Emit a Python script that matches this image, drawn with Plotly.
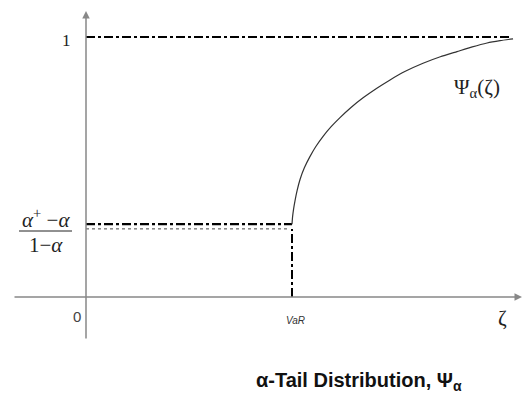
import plotly.graph_objects as go

# ---- data ----
var_x = 1.0                      # VaR position on the zeta axis
lower_level = 0.28               # (alpha+ - alpha)/(1 - alpha)
lower_level_thin = 0.262
top_level = 1.0
curve_x = [1.0, 1.003, 1.008, 1.015, 1.025, 1.039, 1.06, 1.087, 1.115, 1.150, 1.19, 1.233,
           1.285, 1.345, 1.41, 1.476, 1.55, 1.636, 1.72, 1.801, 1.875, 1.947, 2.01, 2.073]
curve_y = [0.28, 0.31, 0.34, 0.372, 0.41, 0.452, 0.497, 0.540, 0.578, 0.617, 0.655, 0.690,
           0.728, 0.766, 0.802, 0.835, 0.868, 0.899, 0.924, 0.944, 0.962, 0.977, 0.986, 0.993]
top_line_x = [0.0, 2.063]
x_tick_labels = ["0", "VaR", "ζ"]
y_tick_labels = ["1"]

# pixel mapping helpers for the plotting frame (origin at px 86, 297)
X0, Y0, XS, YS = 86, 297, 206, 260
xr = [(0 - X0) / XS, (524 - X0) / XS]
yr = [(Y0 - 398) / YS, (Y0 - 0) / YS]

fig = go.Figure()

# top level line y = 1
fig.add_trace(go.Scatter(x=top_line_x, y=[top_level, top_level], mode="lines",
                         line=dict(color="black", width=2.2, dash="dashdot"), hoverinfo="skip"))
# lower level lines
fig.add_trace(go.Scatter(x=[0, var_x], y=[lower_level, lower_level], mode="lines",
                         line=dict(color="black", width=2.2, dash="dashdot"), hoverinfo="skip"))
fig.add_trace(go.Scatter(x=[0, var_x - 0.01], y=[lower_level_thin, lower_level_thin], mode="lines",
                         line=dict(color="#444", width=1, dash="dot"), hoverinfo="skip"))
# vertical at VaR
fig.add_trace(go.Scatter(x=[var_x, var_x], y=[0, lower_level_thin], mode="lines",
                         line=dict(color="black", width=2, dash="dashdot"), hoverinfo="skip"))
# curve
fig.add_trace(go.Scatter(x=curve_x, y=curve_y, mode="lines", line_shape="spline",
                         line=dict(color="#333", width=1.2, smoothing=0.6), hoverinfo="skip"))

annos = []
# axes with arrows
annos.append(dict(x=(522 - X0) / XS, y=0, ax=(13 - X0) / XS, ay=0, xref="x", yref="y",
                  axref="x", ayref="y", showarrow=True, arrowhead=2, arrowsize=1,
                  arrowwidth=1.5, arrowcolor="#888", text=""))
annos.append(dict(x=0, y=(Y0 - 11) / YS, ax=0, ay=(Y0 - 340) / YS, xref="x", yref="y",
                  axref="x", ayref="y", showarrow=True, arrowhead=2, arrowsize=1,
                  arrowwidth=1.5, arrowcolor="#888", text=""))
# tick labels
annos.append(dict(x=(77 - X0) / XS, y=(Y0 - 316) / YS, text=x_tick_labels[0], showarrow=False,
                  xanchor="center", yanchor="middle",
                  font=dict(family="Arial", size=15, color="#444")))
annos.append(dict(x=(295 - X0) / XS, y=(Y0 - 320) / YS, text="<i>" + x_tick_labels[1] + "</i>",
                  showarrow=False, xanchor="center", yanchor="middle",
                  font=dict(family="Arial", size=10, color="#333")))
annos.append(dict(x=(502 - X0) / XS, y=(Y0 - 318) / YS, text=x_tick_labels[2], showarrow=False,
                  xanchor="center", yanchor="middle",
                  font=dict(family="Liberation Serif", size=21, color="#222")))
annos.append(dict(x=(66 - X0) / XS, y=(Y0 - 40) / YS, text=y_tick_labels[0], showarrow=False,
                  xanchor="center", yanchor="middle",
                  font=dict(family="Liberation Serif", size=17, color="#222")))
# fraction label
annos.append(dict(x=(46 - X0) / XS, y=(Y0 - 218) / YS, text="<i>α</i><sup>+</sup> −<i>α</i>",
                  showarrow=False, xanchor="center", yanchor="middle",
                  font=dict(family="Liberation Serif", size=21, color="#222")))
annos.append(dict(x=(46 - X0) / XS, y=(Y0 - 245) / YS, text="1−<i>α</i>",
                  showarrow=False, xanchor="center", yanchor="middle",
                  font=dict(family="Liberation Serif", size=21, color="#222")))
# curve label
annos.append(dict(x=(477 - X0) / XS, y=(Y0 - 88) / YS, text="Ψ<sub>α</sub>(ζ)",
                  showarrow=False, xanchor="center", yanchor="middle",
                  font=dict(family="Liberation Serif", size=21, color="#222")))
# title
annos.append(dict(x=359 / 524, y=1 - 381 / 398, xref="paper", yref="paper",
                  xanchor="center", yanchor="middle",
                  text="<b>α-Tail Distribution, Ψ<sub>α</sub></b>", showarrow=False,
                  font=dict(family="Liberation Sans, Arial", size=20, color="#111")))

shapes = [dict(type="line", xref="x", yref="y", x0=(19 - X0) / XS, x1=(72 - X0) / XS,
               y0=(Y0 - 231) / YS, y1=(Y0 - 231) / YS, line=dict(color="#222", width=1))]

fig.update_layout(
    width=524, height=398, margin=dict(l=0, r=0, t=0, b=0),
    paper_bgcolor="white", plot_bgcolor="white", showlegend=False,
    xaxis=dict(range=xr, visible=False, fixedrange=True),
    yaxis=dict(range=yr, visible=False, fixedrange=True),
    annotations=annos, shapes=shapes,
)
fig.write_html("out.html")
